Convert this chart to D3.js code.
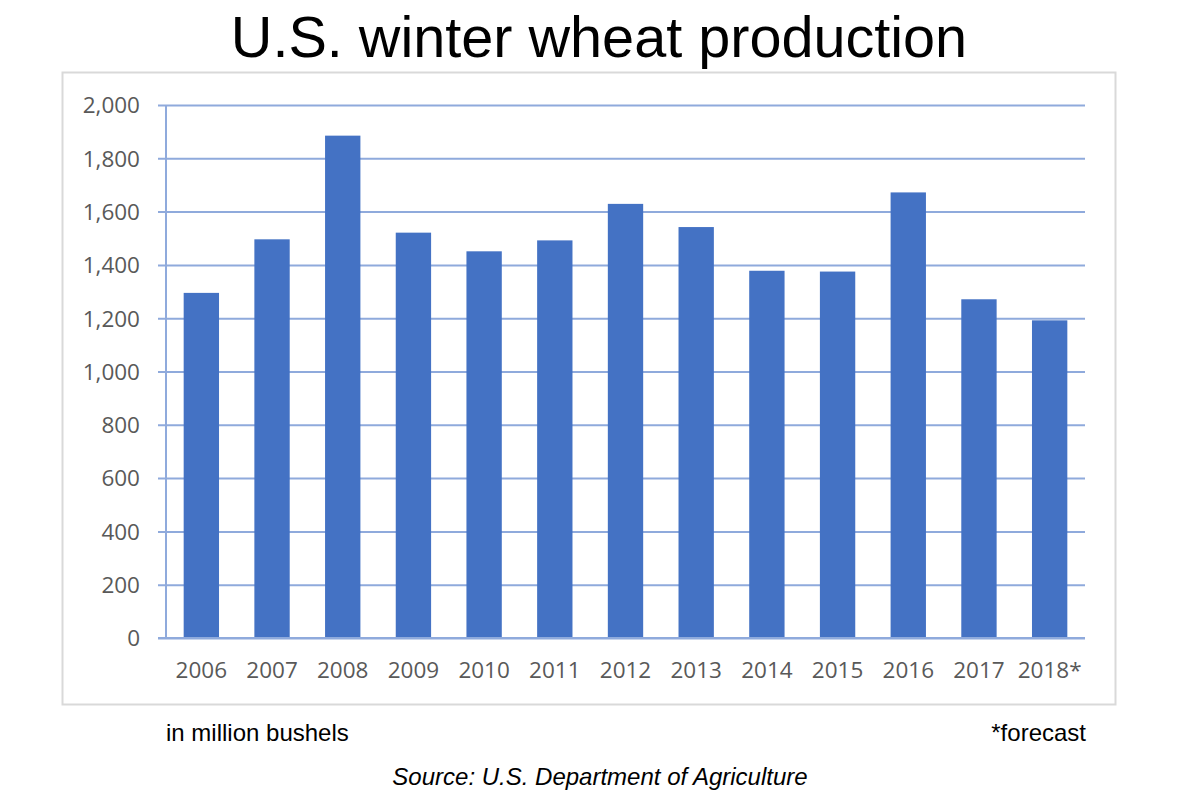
<!DOCTYPE html>
<html>
<head>
<meta charset="utf-8">
<script src="https://cdn.jsdelivr.net/npm/d3@7"></script>
<style>
  html, body { margin: 0; padding: 0; background: #fff; }
  svg { display: block; }
</style>
</head>
<body>
<script>
const years = ["2006","2007","2008","2009","2010","2011","2012","2013","2014","2015","2016","2017","2018*"];
const production = [1295, 1496, 1885, 1521, 1451, 1492, 1629, 1542, 1378, 1375, 1672, 1271, 1192];
const yTicks = [0, 200, 400, 600, 800, 1000, 1200, 1400, 1600, 1800, 2000];

const W = 1200, H = 800;
const svg = d3.select("body").append("svg").attr("width", W).attr("height", H);

svg.append("rect").attr("width", W).attr("height", H).attr("fill", "#fff");

// Title
svg.append("text")
  .attr("x", 599).attr("y", 57)
  .attr("text-anchor", "middle")
  .attr("font-family", "Liberation Sans, Arial, sans-serif")
  .attr("font-size", 57.6)
  .attr("fill", "#000")
  .text("U.S. winter wheat production");

// Chart frame
svg.append("rect")
  .attr("x", 62.5).attr("y", 72.5)
  .attr("width", 1053).attr("height", 632)
  .attr("fill", "none")
  .attr("stroke", "#d9d9d9")
  .attr("stroke-width", 2);

const plotLeft = 166, plotRight = 1085, plotTop = 105, plotBottom = 638;

const x = d3.scaleBand().domain(years).range([plotLeft, plotRight]).paddingInner(0.5).paddingOuter(0.25);
const y = d3.scaleLinear().domain([0, 2000]).range([plotBottom, plotTop]);

const gridColor = "#8faadc";
const labelFont = "Open Sans, Noto Sans, sans-serif";

// Y axis with gridlines
const yAxis = d3.axisLeft(y).tickValues(yTicks).tickFormat(d3.format(",")).tickSize(-(plotRight - plotLeft)).tickPadding(0);
const gy = svg.append("g").attr("transform", `translate(${plotLeft},0)`).call(yAxis);
gy.select(".domain").remove();
gy.selectAll(".tick line")
  .attr("x1", -8)
  .attr("stroke", gridColor)
  .attr("stroke-width", 2);
gy.selectAll(".tick text")
  .attr("x", -26)
  .attr("dy", "0.35em")
  .attr("font-family", labelFont)
  .attr("font-size", 22.5)
  .attr("fill", "#595959");

// Vertical axis line
svg.append("line")
  .attr("x1", plotLeft).attr("x2", plotLeft)
  .attr("y1", y(2000)).attr("y2", y(0))
  .attr("stroke", gridColor).attr("stroke-width", 2);

// Bars
svg.append("g").selectAll("rect")
  .data(production)
  .join("rect")
  .attr("x", (d, i) => x(years[i]))
  .attr("width", x.bandwidth())
  .attr("y", d => y(d))
  .attr("height", d => y(0) - y(d))
  .attr("fill", "#4472c4");

// Baseline redrawn on top
svg.append("line")
  .attr("x1", plotLeft - 8).attr("x2", plotRight)
  .attr("y1", y(0)).attr("y2", y(0))
  .attr("stroke", gridColor).attr("stroke-width", 2);

// X axis labels
const xAxis = d3.axisBottom(x).tickSize(0).tickPadding(0);
const gx = svg.append("g").attr("transform", `translate(0,${plotBottom})`).call(xAxis);
gx.select(".domain").remove();
gx.selectAll(".tick text")
  .attr("y", 40)
  .attr("dy", 0)
  .attr("font-family", labelFont)
  .attr("font-size", 22.5)
  .attr("fill", "#595959");

// Footer texts
svg.append("text")
  .attr("x", 166).attr("y", 741)
  .attr("font-family", "Liberation Sans, Arial, sans-serif")
  .attr("font-size", 24)
  .attr("fill", "#000")
  .text("in million bushels");

svg.append("text")
  .attr("x", 1086).attr("y", 741)
  .attr("text-anchor", "end")
  .attr("font-family", "Liberation Sans, Arial, sans-serif")
  .attr("font-size", 24)
  .attr("fill", "#000")
  .text("*forecast");

svg.append("text")
  .attr("x", 600).attr("y", 785)
  .attr("text-anchor", "middle")
  .attr("font-family", "Liberation Sans, Arial, sans-serif")
  .attr("font-style", "italic")
  .attr("font-size", 24)
  .attr("fill", "#000")
  .text("Source: U.S. Department of Agriculture");
</script>
</body>
</html>
